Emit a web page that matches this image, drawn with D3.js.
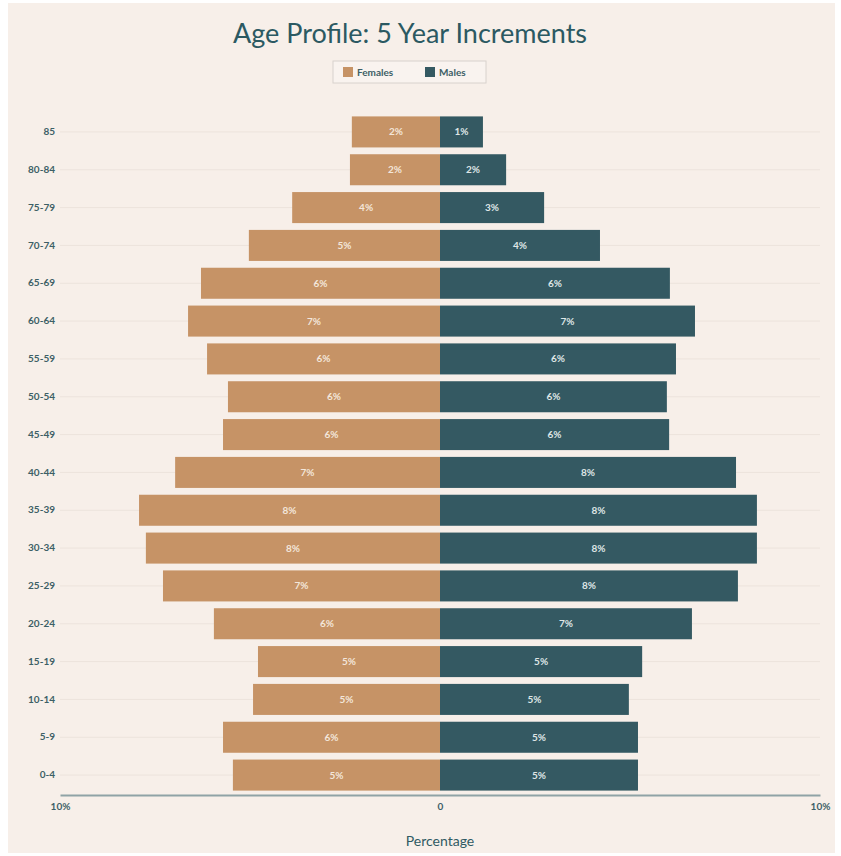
<!DOCTYPE html>
<html>
<head>
<meta charset="utf-8">
<script src="https://cdn.jsdelivr.net/npm/d3@7"></script>
<style>
  body { margin: 0; background: #ffffff; }
  text { font-family: Lato, "Open Sans", sans-serif; }
</style>
</head>
<body>
<div id="graphic"></div>
<script>
const width = 841;
const height = 856;

// data, top to bottom
const ageGroups = ['85', '80-84', '75-79', '70-74', '65-69', '60-64', '55-59', '50-54', '45-49',
                   '40-44', '35-39', '30-34', '25-29', '20-24', '15-19', '10-14', '5-9', '0-4'];
const females = [2.32, 2.37, 3.89, 5.03, 6.29, 6.63, 6.13, 5.58, 5.71,
                 6.97, 7.92, 7.74, 7.29, 5.95, 4.79, 4.92, 5.71, 5.45];
const males = [1.13, 1.74, 2.74, 4.21, 6.05, 6.71, 6.21, 5.97, 6.03,
               7.79, 8.34, 8.34, 7.84, 6.63, 5.32, 4.97, 5.21, 5.21];
const xTicks = [-10, 0, 10];
const seriesNames = ['Females', 'Males'];
const colors = ['#c69366', '#345962'];

const svgGraph = d3.select('#graphic')
    .append('svg')
    .attr('width', width)
    .attr('height', height);

svgGraph.append('rect')
    .attr('x', 8).attr('y', 3)
    .attr('width', 827).attr('height', 850)
    .attr('fill', '#f7efe9');

const scaleX = d3.scaleLinear()
    .domain([-10, 10])
    .range([60, 820]);

const scaleY = d3.scaleBand()
    .domain(ageGroups)
    .range([113, 794])
    .paddingInner(0.18)
    .paddingOuter(0.09);

// faint grid lines
svgGraph.append('g')
    .selectAll('line')
    .data(ageGroups)
    .enter()
    .append('line')
    .attr('x1', 60)
    .attr('x2', 820)
    .attr('y1', d => scaleY(d) + scaleY.bandwidth() / 2)
    .attr('y2', d => scaleY(d) + scaleY.bandwidth() / 2)
    .attr('stroke', '#ece3dc')
    .attr('stroke-width', 1);

// bars
const rows = ageGroups.map((a, i) => ({ age: a, f: females[i], m: males[i] }));

const rowGroup = svgGraph.selectAll('g.row')
    .data(rows)
    .enter()
    .append('g')
    .attr('class', 'row');

rowGroup.append('rect')
    .attr('x', d => scaleX(-d.f))
    .attr('y', d => scaleY(d.age))
    .attr('width', d => scaleX(0) - scaleX(-d.f))
    .attr('height', scaleY.bandwidth())
    .attr('fill', colors[0]);

rowGroup.append('rect')
    .attr('x', scaleX(0))
    .attr('y', d => scaleY(d.age))
    .attr('width', d => scaleX(d.m) - scaleX(0))
    .attr('height', scaleY.bandwidth())
    .attr('fill', colors[1]);

rowGroup.append('text')
    .attr('x', d => scaleX(-d.f / 2))
    .attr('y', d => scaleY(d.age) + scaleY.bandwidth() / 2)
    .attr('dy', '0.35em')
    .attr('text-anchor', 'middle')
    .attr('font-size', 10)
    .attr('font-weight', 'bold')
    .attr('fill', '#f3e6da')
    .text(d => Math.round(d.f) + '%');

rowGroup.append('text')
    .attr('x', d => scaleX(d.m / 2))
    .attr('y', d => scaleY(d.age) + scaleY.bandwidth() / 2)
    .attr('dy', '0.35em')
    .attr('text-anchor', 'middle')
    .attr('font-size', 10)
    .attr('font-weight', 'bold')
    .attr('fill', '#dfe6e6')
    .text(d => Math.round(d.m) + '%');

// y axis labels
const axisY = d3.axisLeft(scaleY).tickSize(0).tickPadding(0);
const gy = svgGraph.append('g')
    .attr('transform', 'translate(55,0)')
    .call(axisY);
gy.select('.domain').remove();
gy.selectAll('text')
    .attr('font-size', 10)
    .attr('font-weight', 'bold')
    .attr('fill', '#3d5f66')
    .style('font-family', 'Lato, sans-serif');

// x axis
const axisX = d3.axisBottom(scaleX)
    .tickValues(xTicks)
    .tickSize(0)
    .tickPadding(8)
    .tickFormat(d => d === 0 ? '0' : Math.abs(d) + '%');
const gx = svgGraph.append('g')
    .attr('transform', 'translate(0,795)')
    .call(axisX);
gx.select('.domain').attr('stroke', '#8fa3a6').attr('stroke-width', 2);
gx.selectAll('text')
    .attr('font-size', 10)
    .attr('font-weight', 'bold')
    .attr('fill', '#3d5f66')
    .style('font-family', 'Lato, sans-serif');

svgGraph.append('text')
    .attr('x', 440)
    .attr('y', 846)
    .attr('text-anchor', 'middle')
    .attr('font-size', 14)
    .attr('fill', '#2f5a63')
    .text('Percentage');

// title
svgGraph.append('text')
    .attr('x', 410)
    .attr('y', 43)
    .attr('text-anchor', 'middle')
    .attr('font-size', 27)
    .attr('fill', '#2b5962')
    .text('Age Profile: 5 Year Increments');

// legend
const legend = svgGraph.append('g').attr('transform', 'translate(333,61)');
legend.append('rect')
    .attr('width', 153).attr('height', 22)
    .attr('fill', '#f9f3ef')
    .attr('stroke', '#d8d2cd');
const legendItem = legend.selectAll('g.item')
    .data(seriesNames)
    .enter()
    .append('g')
    .attr('class', 'item')
    .attr('transform', (d, i) => `translate(${10 + i * 82},0)`);
legendItem.append('rect')
    .attr('y', 6).attr('width', 10).attr('height', 10)
    .attr('fill', (d, i) => colors[i]);
legendItem.append('text')
    .attr('x', 14).attr('y', 11)
    .attr('dy', '0.35em')
    .attr('font-size', 10)
    .attr('font-weight', 'bold')
    .attr('fill', '#3d5f66')
    .text(d => d);
</script>
</body>
</html>
